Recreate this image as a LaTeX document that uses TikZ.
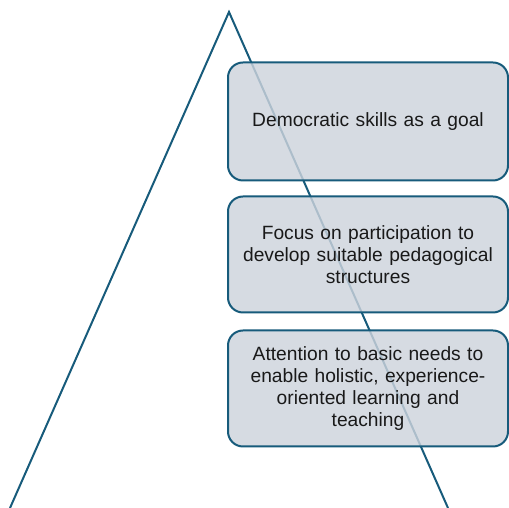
\documentclass[tikz,border=0pt]{standalone}
\usepackage{fontspec}
\setmainfont{Liberation Sans}
\usetikzlibrary{positioning}
\definecolor{tealline}{HTML}{175B7B}
\definecolor{boxfill}{HTML}{CDD3DC}
\tikzstyle{level} = [rectangle, rounded corners=15pt, minimum width=280pt, minimum height=118pt, text width=272pt, align=center, draw=tealline, line width=2pt, fill=boxfill, fill opacity=0.82, text opacity=1, text=black!90, font=\fontsize{19.2}{21.8}\selectfont]
\tikzstyle{side} = [draw=tealline, line width=2pt]

\begin{document}
\begin{tikzpicture}[x=1pt, y=1pt, node distance=14pt]
\useasboundingbox (0,0) rectangle (509,508);

% the triangle, open at the bottom
\coordinate (apex) at (229,496);
\coordinate (left) at (10,0);
\coordinate (right) at (448,0);
\draw [side] (left) -- (apex) -- (right);

\node (goal) [level] at (368,386.5) {Democratic skills as a goal};
\node (part) [level, below=of goal, minimum height=116pt] {Focus on participation to\\develop suitable pedagogical\\structures};
\node (needs) [level, below=of part, yshift=-2pt, minimum height=116pt] {Attention to basic needs to\\enable holistic, experience-\\oriented learning and\\teaching};

\end{tikzpicture}
\end{document}
